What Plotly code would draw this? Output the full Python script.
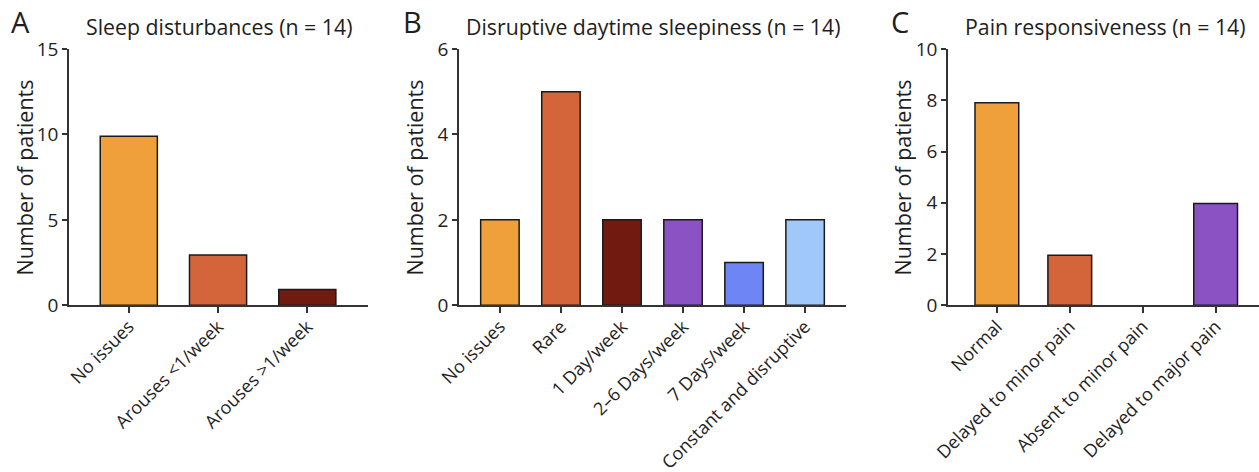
import plotly.graph_objects as go

# ---- data ----
sleep_cats = ["No issues", "Arouses <1/week", "Arouses >1/week"]
sleep_vals = [9.9, 2.95, 0.92]
sleep_colors = ["#F0A03A", "#D4643A", "#701A10"]

day_cats = ["No issues", "Rare", "1 Day/week", "2–6 Days/week", "7 Days/week", "Constant and disruptive"]
day_vals = [2, 5, 2, 2, 1, 2]
day_colors = ["#F0A03A", "#D4643A", "#701A10", "#8B52C4", "#6E86F5", "#A0C8F8"]

pain_cats = ["Normal", "Delayed to minor pain", "Absent to minor pain", "Delayed to major pain"]
pain_vals = [7.9, 1.95, 0, 3.97]
pain_colors = ["#F0A03A", "#D4643A", "#8B52C4", "#8B52C4"]

titles = ["Sleep disturbances (n = 14)", "Disruptive daytime sleepiness (n = 14)", "Pain responsiveness (n = 14)"]
letters = ["A", "B", "C"]
ymax = [15, 6, 10]
ydtick = [5, 2, 2]

W, H = 1259, 472
FONT = "Open Sans"
TXT = "#1e1e1e"
AX = "#333333"

fig = go.Figure()

panels = [
    (sleep_cats, sleep_vals, sleep_colors, 69, 368, 0.64, 2 + 0.68),
    (day_cats, day_vals, day_colors, 459, 846, 0.63, 5 + 0.67),
    (pain_cats, pain_vals, pain_colors, 948, 1259, 0.60, 3 + (1259 - 1215.7) / 72.8),
]

y0 = (H - 305.3) / H
y1 = (H - 49) / H

for i, (cats, vals, cols, xl, xr, bw, rmax) in enumerate(panels):
    n = "" if i == 0 else str(i + 1)
    fig.add_trace(go.Bar(
        x=list(range(len(cats))), y=vals, width=bw,
        marker=dict(color=cols, line=dict(color="#1a1a1a",
                                          width=[1.5 if v > 0 else 0 for v in vals])),
        xaxis="x" + n, yaxis="y" + n, showlegend=False, hoverinfo="skip",
    ))
    fig.layout["xaxis" + n] = dict(
        domain=[xl / W, xr / W], range=[-0.67, rmax], anchor="y" + n, automargin=False,
        tickmode="array", tickvals=list(range(len(cats))), ticktext=cats,
        tickangle=-45, ticks="outside", ticklen=6, tickwidth=1.5, tickcolor=AX,
        ticklabelstandoff=-4,
        showline=True, linecolor=AX, linewidth=1.5, showgrid=False, zeroline=False,
        tickfont=dict(family=FONT, size=18, color=TXT),
    )
    fig.layout["yaxis" + n] = dict(
        domain=[y0, y1], range=[0, ymax[i]], anchor="x" + n, automargin=False,
        dtick=ydtick[i], tick0=0, ticks="outside", ticklen=5, tickwidth=1.5, tickcolor=AX,
        showline=True, linecolor=AX, linewidth=1.5, showgrid=False, zeroline=False,
        tickfont=dict(family=FONT, size=19, color=TXT),
    )

title_x = [218.5, 653, 1105]
letter_x = [21, 412, 900]
ylab_x = [24, 414, 902]
for i in range(3):
    fig.add_annotation(x=title_x[i] / W, y=1 - 27 / H, xref="paper", yref="paper",
                       text=titles[i], showarrow=False, xanchor="center", yanchor="middle",
                       font=dict(family=FONT, size=21.3, color=TXT))
    fig.add_annotation(x=letter_x[i] / W, y=1 - 22 / H, xref="paper", yref="paper",
                       text=letters[i], showarrow=False, xanchor="center", yanchor="middle",
                       font=dict(family=FONT, size=29, color=TXT))
    fig.add_annotation(x=ylab_x[i] / W, y=1 - 177.5 / H, xref="paper", yref="paper",
                       text="Number of patients", textangle=-90, showarrow=False,
                       xanchor="center", yanchor="middle",
                       font=dict(family=FONT, size=21.5, color=TXT))

fig.update_layout(
    width=W, height=H, margin=dict(l=0, r=0, t=0, b=0, autoexpand=False),
    paper_bgcolor="white", plot_bgcolor="white", bargap=0.3,
)

fig.write_html("out.html", config={"displayModeBar": False},
               post_script="document.body.style.margin='0';document.body.style.overflow='hidden';")
